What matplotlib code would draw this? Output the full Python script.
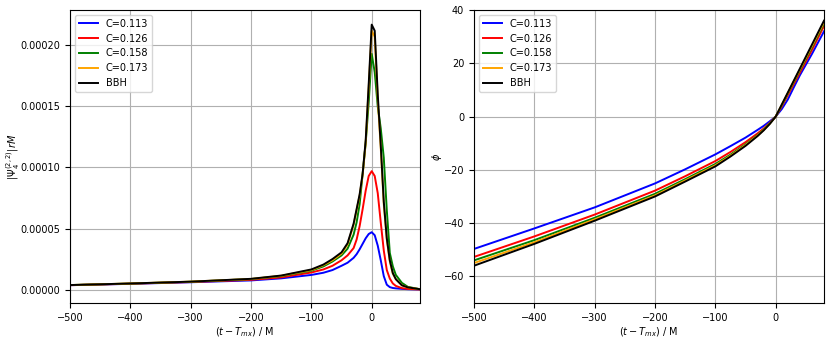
import matplotlib
matplotlib.use('Agg')
import matplotlib.pyplot as plt
import numpy as np

font = {'weight': 'normal', 'size': 7}
matplotlib.rc('font', **font)

labels = ['C=0.113', 'C=0.126', 'C=0.158', 'C=0.173', 'BBH']
colors = ['blue', 'red', 'green', 'orange', 'black']

# amplitude |psi4| (units of 1e-5)
t_amp = [-500, -400, -300, -200, -150, -100, -80, -65, -50, -40, -30, -25, -20, -15,
         -10, -5, 0, 5, 10, 15, 20, 25, 30, 35, 40, 50, 60, 80]
amp_113 = [0.36, 0.47, 0.60, 0.75, 0.92, 1.20, 1.38, 1.60, 1.95, 2.20, 2.60, 2.90, 3.30, 3.75,
           4.20, 4.55, 4.70, 4.45, 3.60, 2.40, 1.10, 0.40, 0.20, 0.13, 0.10, 0.06, 0.03, 0.01]
amp_126 = [0.36, 0.48, 0.62, 0.80, 1.00, 1.40, 1.65, 1.95, 2.40, 2.80, 3.40, 4.10, 5.20, 6.60,
           8.10, 9.30, 9.70, 9.30, 7.90, 5.50, 3.20, 1.60, 0.90, 0.50, 0.30, 0.12, 0.05, 0.01]
amp_158 = [0.37, 0.49, 0.64, 0.86, 1.10, 1.55, 1.90, 2.30, 2.80, 3.35, 4.50, 5.50, 7.00, 9.50,
           12.0, 15.3, 19.3, 17.8, 15.0, 13.2, 10.8, 6.50, 3.00, 1.90, 1.20, 0.55, 0.22, 0.03]
amp_173 = [0.37, 0.50, 0.65, 0.87, 1.13, 1.60, 2.00, 2.40, 2.95, 3.70, 5.30, 6.50, 7.70, 9.40,
           12.0, 16.5, 21.2, 20.7, 15.6, 11.6, 7.00, 4.10, 2.30, 1.30, 0.85, 0.35, 0.18, 0.03]
amp_bbh = [0.37, 0.50, 0.65, 0.88, 1.15, 1.65, 2.05, 2.50, 3.05, 3.80, 5.40, 6.60, 7.80, 9.50,
           12.2, 16.8, 21.7, 21.2, 16.0, 11.8, 7.20, 4.20, 2.40, 1.35, 0.85, 0.35, 0.18, 0.03]

# phase
t_phi = [-500, -400, -300, -200, -150, -100, -75, -50, -30, -20, -10, 0, 10, 20, 30, 40, 60, 80]
phi_113 = [-49.7, -42.0, -34.1, -25.1, -19.8, -14.2, -11.1, -7.9, -5.0, -3.5, -1.8, 0,
           2.8, 6.4, 11.0, 15.5, 23.5, 32.0]
phi_126 = [-52.7, -45.0, -36.8, -27.8, -22.4, -16.7, -13.3, -9.6, -6.3, -4.5, -2.4, 0,
           3.8, 8.0, 12.3, 16.5, 25.0, 34.0]
phi_158 = [-54.0, -46.4, -38.0, -29.0, -23.5, -17.8, -14.3, -10.4, -6.9, -4.9, -2.6, 0,
           4.2, 8.6, 13.0, 17.3, 26.0, 35.0]
phi_173 = [-55.0, -47.2, -38.6, -29.6, -24.0, -18.3, -14.7, -10.7, -7.1, -5.05, -2.7, 0,
           4.4, 8.8, 13.3, 17.7, 26.5, 35.5]
phi_bbh = [-56.0, -47.8, -39.1, -30.0, -24.4, -18.7, -15.0, -11.0, -7.3, -5.2, -2.8, 0,
           4.5, 9.0, 13.5, 18.0, 27.0, 36.0]

amps = [amp_113, amp_126, amp_158, amp_173, amp_bbh]
phis = [phi_113, phi_126, phi_158, phi_173, phi_bbh]

fig = plt.figure(figsize=(8.31, 3.41), dpi=100)
ax1 = fig.add_axes([0.0842, 0.1114, 0.4212, 0.8593])
ax2 = fig.add_axes([0.5704, 0.1114, 0.4212, 0.8593])

for a, c, lab in zip(amps, colors, labels):
    ax1.plot(t_amp, np.array(a) * 1e-5, color=c, linewidth=1.4, label=lab)
for p, c, lab in zip(phis, colors, labels):
    ax2.plot(t_phi, p, color=c, linewidth=1.4, label=lab)

ax1.set_xlim(-500, 80)
ax1.set_ylim(-1.1e-5, 2.29e-4)
ax1.set_yticks([0, 5e-5, 1e-4, 1.5e-4, 2e-4])
ax1.set_yticklabels(['0.00000', '0.00005', '0.00010', '0.00015', '0.00020'])
ax1.set_ylabel(r'$|\Psi_4^{(2,2)}|rM$')
ax1.yaxis.set_label_coords(-0.137, 0.5)
ax1.set_xlabel(r'$(t-T_{mx})$ / M', labelpad=2)
ax1.grid(True)
ax1.legend(loc='upper left')

ax2.set_xlim(-500, 80)
ax2.set_ylim(-70, 40)
ax2.set_ylabel(r'$\phi$')
ax2.yaxis.set_label_coords(-0.086, 0.5)
ax2.set_xlabel(r'$(t-T_{mx})$ / M', labelpad=2)
ax2.grid(True)
ax2.legend(loc='upper left')

plt.savefig('out.png', dpi=100)
